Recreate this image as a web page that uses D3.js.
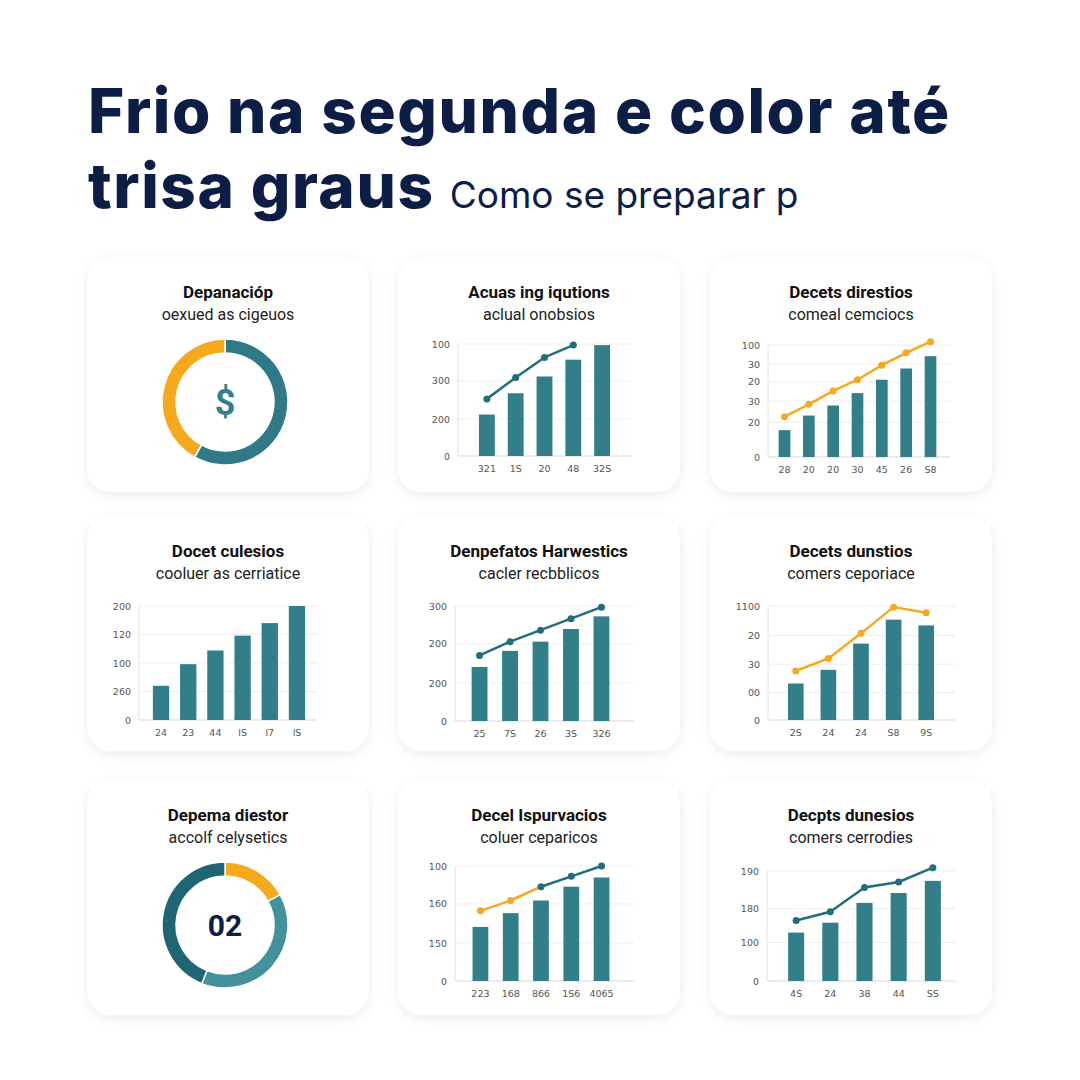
<!DOCTYPE html>
<html><head><meta charset="utf-8">
<script src="https://cdn.jsdelivr.net/npm/d3@7"></script>
<style>body{margin:0;background:#fff}</style></head>
<body><div id="chart"></div>
<script>
// data
var cardTitles = ["Depanacióp","Acuas ing iqutions","Decets direstios","Docet culesios","Denpefatos Harwestics","Decets dunstios","Depema diestor","Decel Ispurvacios","Decpts dunesios"];
var cardSubs = ["oexued as cigeuos","aclual onobsios","comeal cemciocs","cooluer as cerriatice","cacler recbblicos","comers ceporiace","accolf celysetics","coluer ceparicos","comers cerrodies"];

var donut1 = [58, 42];
var donut7 = [17, 39, 44];

var bars2 = [37, 56, 71, 86, 99], line2 = [51, 70, 88, 99];
var xLab2 = ["321","1S","20","48","32S"], yTick2 = [0,33,67,100], yLab2 = ["0","200","300","100"];

var bars3 = [24, 37, 46, 57, 69, 79, 90], line3 = [36, 47, 59, 69, 82, 93, 103];
var xLab3 = ["28","20","20","30","45","26","S8"], yTick3 = [0,31,50,67,83,100], yLab3 = ["0","20","30","20","30","100"];

var bars4 = [30, 49, 61, 74, 85, 100];
var xLab4 = ["24","23","44","lS","l7","lS"], yTick4 = [0,25,50,75,100], yLab4 = ["0","260","100","120","200"];

var bars5 = [47, 61, 69, 80, 91], line5 = [57, 69, 79, 89, 99];
var xLab5 = ["25","7S","26","3S","326"], yTick5 = [0,33,67,100], yLab5 = ["0","200","200","300"];

var bars6 = [32, 44, 67, 88, 83], line6 = [43, 54, 76, 99, 94];
var xLab6 = ["2S","24","24","S8","9S"], yTick6 = [0,24,49,74,100], yLab6 = ["0","00","30","20","1100"];

var bars8 = [47, 59, 70, 82, 90], line8 = [61, 70, 82, 91, 100];
var xLab8 = ["223","168","866","1S6","4065"], yTick8 = [0,33,67,100], yLab8 = ["0","150","160","100"];

var bars9 = [44, 53, 71, 80, 91], line9 = [55, 63, 85, 90, 103];
var xLab9 = ["4S","24","38","44","SS"], yTick9 = [0,35,66,100], yLab9 = ["0","100","180","190"];

var TEAL = "#327f89", ORANGE = "#f6a91d", NAVY = "#0c1d46";

var svg = d3.select("#chart").append("svg").attr("width",1080).attr("height",1080);
var defs = svg.append("defs");
var f = defs.append("filter").attr("id","sh").attr("x","-20%").attr("y","-20%").attr("width","140%").attr("height","140%");
f.append("feDropShadow").attr("dx",0).attr("dy",3).attr("stdDeviation",6).attr("flood-color","#000").attr("flood-opacity",0.08);

// title
svg.append("text").attr("x",88).attr("y",133).attr("font-family","Inter").attr("font-weight",800)
  .attr("font-size",62).attr("fill",NAVY).attr("letter-spacing",1.6).text("Frio na segunda e color até");
var t2 = svg.append("text").attr("x",88).attr("y",208).attr("font-family","Inter").attr("fill",NAVY);
t2.append("tspan").attr("font-weight",800).attr("font-size",62).attr("letter-spacing",1.6).text("trisa graus ");
t2.append("tspan").attr("font-weight",400).attr("font-size",37).text("Como se preparar p");

var colX = [87, 398, 710], rowY = [257, 516, 780], CW = 282, CH = 235;

var cards = [];
for (var i = 0; i < 9; i++) {
  var g = svg.append("g").attr("transform","translate("+colX[i%3]+","+rowY[Math.floor(i/3)]+")");
  g.append("rect").attr("width",CW).attr("height",CH).attr("rx",24).attr("fill","#fff").attr("filter","url(#sh)");
  g.append("text").attr("x",CW/2).attr("y",41).attr("text-anchor","middle").attr("font-family","Roboto")
    .attr("font-weight",700).attr("font-size",17).attr("fill","#111").text(cardTitles[i]);
  g.append("text").attr("x",CW/2).attr("y",63).attr("text-anchor","middle").attr("font-family","Roboto")
    .attr("font-size",16).attr("fill","#222").text(cardSubs[i]);
  cards.push(g);
}

function donut(g, vals, colors, label, labelColor, fs) {
  var pie = d3.pie().sort(null)(vals);
  var arc = d3.arc().innerRadius(49).outerRadius(63);
  var d = g.append("g").attr("transform","translate(138,145)");
  d.selectAll("path").data(pie).enter().append("path").attr("d",arc).attr("fill",function(p,i){return colors[i];})
    .attr("stroke","#fff").attr("stroke-width",1.5);
  d.append("text").attr("y",fs*0.36).attr("text-anchor","middle").attr("font-family","Roboto").attr("font-weight",700)
    .attr("font-size",fs).attr("fill",labelColor).text(label);
}
donut(cards[0], donut1, ["#2f7a86", ORANGE], "$", TEAL, 36);
donut(cards[6], donut7, [ORANGE, "#43919b", "#1f6574"], "02", NAVY, 30);

// bar charts: layout [plot left, right, top, baseline, band left, band right, padding]
function barChart(g, cfg) {
  var L = cfg.lay;
  var y = d3.scaleLinear().domain([0,100]).range([L[3], L[2]]);
  var x = d3.scaleBand().domain(d3.range(cfg.bars.length)).range([L[4], L[5]]).padding(L[6]);
  g.selectAll(".gl").data(cfg.ticks).enter().append("line").attr("x1",L[0]).attr("x2",L[1])
    .attr("y1",function(d){return y(d);}).attr("y2",function(d){return y(d);})
    .attr("stroke",function(d){return d===0?"#d8d8d8":"#eeeeee";});
  g.append("line").attr("x1",L[0]).attr("x2",L[0]).attr("y1",L[2]).attr("y2",L[3]).attr("stroke","#e2e2e2");
  g.selectAll(".yl").data(cfg.ticks).enter().append("text").attr("x",L[0]-8).attr("y",function(d){return y(d)+3.5;})
    .attr("text-anchor","end").attr("font-family","DejaVu Sans").attr("font-size",9.5).attr("fill","#555")
    .text(function(d,i){return cfg.yLab[i];});
  g.selectAll(".b").data(cfg.bars).enter().append("rect").attr("x",function(d,i){return x(i);})
    .attr("width",x.bandwidth()).attr("y",function(d){return y(d);}).attr("height",function(d){return y(0)-y(d);})
    .attr("fill",TEAL);
  g.selectAll(".xl").data(cfg.xLab).enter().append("text").attr("x",function(d,i){return x(i)+x.bandwidth()/2;})
    .attr("y",L[3]+16).attr("text-anchor","middle").attr("font-family","DejaVu Sans").attr("font-size",9.5)
    .attr("fill","#555").text(function(d){return d;});
  if (cfg.line) {
    var pts = cfg.line.map(function(v,i){return [x(i)+x.bandwidth()/2, y(v)];});
    var colors = cfg.lineColors || cfg.line.map(function(){return cfg.lineColor;});
    for (var k = 0; k < pts.length-1; k++) {
      g.append("line").attr("x1",pts[k][0]).attr("y1",pts[k][1]).attr("x2",pts[k+1][0]).attr("y2",pts[k+1][1])
        .attr("stroke",colors[k]).attr("stroke-width",2.5).attr("stroke-linecap","round");
    }
    g.selectAll(".pt").data(pts).enter().append("circle").attr("cx",function(p){return p[0];}).attr("cy",function(p){return p[1];})
      .attr("r",3.5).attr("fill",function(p,i){return colors[i];});
  }
}

barChart(cards[1], {bars:bars2, line:line2, lineColor:"#236e7b", xLab:xLab2, ticks:yTick2, yLab:yLab2, lay:[60,234,87,199,68,225,0.45]});
barChart(cards[2], {bars:bars3, line:line3, lineColor:ORANGE, xLab:xLab3, ticks:yTick3, yLab:yLab3, lay:[58,240,88,200,56,239,0.52]});
barChart(cards[3], {bars:bars4, xLab:xLab4, ticks:yTick4, yLab:yLab4, lay:[52,230,90,204,55,229,0.4]});
barChart(cards[4], {bars:bars5, line:line5, lineColor:"#236e7b", xLab:xLab5, ticks:yTick5, yLab:yLab5, lay:[57,236,90,205,59,226,0.48]});
barChart(cards[5], {bars:bars6, line:line6, lineColor:ORANGE, xLab:xLab6, ticks:yTick6, yLab:yLab6, lay:[58,246,90,204,61,241,0.52]});
barChart(cards[7], {bars:bars8, line:line8, lineColors:[ORANGE,ORANGE,"#236e7b","#236e7b","#236e7b"], xLab:xLab8, ticks:yTick8, yLab:yLab8, lay:[57,236,86,201,60,226,0.48]});
barChart(cards[8], {bars:bars9, line:line9, lineColor:"#236e7b", xLab:xLab9, ticks:yTick9, yLab:yLab9, lay:[57,246,91,201,60,249,0.53]});
</script></body></html>
